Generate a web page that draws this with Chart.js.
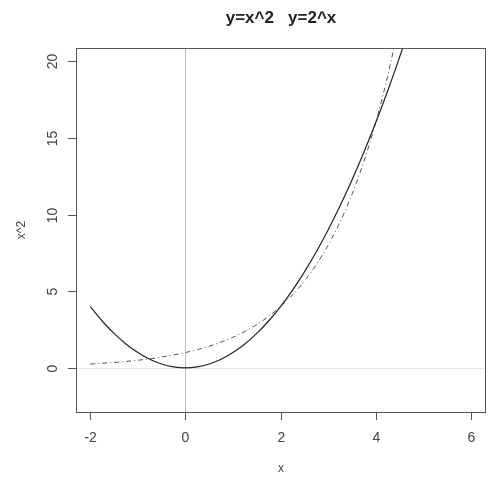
<!DOCTYPE html>
<html>
<head>
<meta charset="utf-8">
<script src="https://cdn.jsdelivr.net/npm/chart.js@4/dist/chart.umd.min.js"></script>
<style>
  body { margin: 0; background: #fff; }
</style>
</head>
<body>
<canvas id="myChart" width="489" height="477"></canvas>
<script>
// valeurs
const xs = [-2, -1.75, -1.5, -1.25, -1, -0.75, -0.5, -0.25, 0, 0.25, 0.5, 0.75, 1, 1.25, 1.5, 1.75, 2, 2.25, 2.5, 2.75, 3, 3.25, 3.5, 3.75, 4, 4.25, 4.5, 4.75, 5];
const squareVals = [4, 3.06, 2.25, 1.56, 1, 0.56, 0.25, 0.06, 0, 0.06, 0.25, 0.56, 1, 1.56, 2.25, 3.06, 4, 5.06, 6.25, 7.56, 9, 10.56, 12.25, 14.06, 16, 18.06, 20.25, 22.56, 25];
const powVals = [0.25, 0.3, 0.35, 0.42, 0.5, 0.59, 0.71, 0.84, 1, 1.19, 1.41, 1.68, 2, 2.38, 2.83, 3.36, 4, 4.76, 5.66, 6.73, 8, 9.51, 11.31, 13.45, 16, 19.03, 22.63, 26.91, 32];
const xTicks = [-2, 0, 2, 4, 6];
const yTicks = [0, 5, 10, 15, 20];
const title = 'y=x^2   y=2^x';
const xTitle = 'x';
const yTitle = 'x^2';

const pts = (ys) => xs.map((x, i) => ({ x: x, y: ys[i] }));

// le cadre, les axes et les textes facon R
const rAxes = {
    id: 'rAxes',
    beforeDatasetsDraw(chart) {
        const c = chart.ctx, a = chart.chartArea;
        const sx = chart.scales.x, sy = chart.scales.y;
        c.save();
        // lignes de reference x=0 et y=0
        c.lineWidth = 1;
        c.strokeStyle = '#bdbdbd';
        const x0 = Math.round(sx.getPixelForValue(0)) + 0.5;
        c.beginPath(); c.moveTo(x0, a.top); c.lineTo(x0, a.bottom); c.stroke();
        c.strokeStyle = '#e6e6e6';
        const y0 = Math.round(sy.getPixelForValue(0)) + 0.5;
        c.beginPath(); c.moveTo(a.left, y0); c.lineTo(a.right, y0); c.stroke();
        c.restore();
    },
    afterDraw(chart) {
        const c = chart.ctx, a = chart.chartArea;
        const sx = chart.scales.x, sy = chart.scales.y;
        c.save();
        c.strokeStyle = '#555';
        c.lineWidth = 1;
        c.strokeRect(a.left + 0.5, a.top + 0.5, a.right - a.left - 1, a.bottom - a.top);
        c.fillStyle = '#444';
        c.font = '14px "Liberation Sans", Arial, sans-serif';
        // x ticks
        c.textAlign = 'center';
        c.textBaseline = 'middle';
        xTicks.forEach(v => {
            const px = Math.round(sx.getPixelForValue(v)) + 0.5;
            c.beginPath(); c.moveTo(px, a.bottom); c.lineTo(px, a.bottom + 8); c.stroke();
            c.fillText(String(v), px, a.bottom + 26);
        });
        // y ticks (texte vertical)
        yTicks.forEach(v => {
            const py = Math.round(sy.getPixelForValue(v)) + 0.5;
            c.beginPath(); c.moveTo(a.left, py); c.lineTo(a.left - 8, py); c.stroke();
            c.save();
            c.translate(a.left - 23, py);
            c.rotate(-Math.PI / 2);
            c.textAlign = 'center';
            c.textBaseline = 'middle';
            c.fillText(String(v), 0, 0);
            c.restore();
        });
        // titres des axes
        c.font = '12px "Liberation Sans", Arial, sans-serif';
        c.textAlign = 'center';
        c.textBaseline = 'middle';
        c.fillText(xTitle, (a.left + a.right) / 2, 469);
        c.save();
        c.translate(22, (a.top + a.bottom) / 2);
        c.rotate(-Math.PI / 2);
        c.fillText(yTitle, 0, 0);
        c.restore();
        // titre principal
        c.fillStyle = '#222';
        c.font = 'bold 17px "Liberation Sans", Arial, sans-serif';
        c.fillText(title, (a.left + a.right) / 2, 18);
        c.restore();
    }
};

const ctx = document.getElementById('myChart').getContext('2d');
const myChart = new Chart(ctx, {
    type: 'line',
    data: {
        datasets: [{
            label: 'x^2',
            data: pts(squareVals),
            borderColor: '#222',
            borderWidth: 1.2,
            pointRadius: 0,
            fill: false,
            cubicInterpolationMode: 'monotone'
        }, {
            label: '2^x',
            data: pts(powVals),
            borderColor: '#555',
            borderWidth: 1,
            borderDash: [5, 3, 1, 3],
            pointRadius: 0,
            fill: false,
            cubicInterpolationMode: 'monotone'
        }]
    },
    options: {
        responsive: false,
        animation: false,
        layout: { padding: { left: 76, top: 48, right: 3, bottom: 65 } },
        plugins: { legend: { display: false }, title: { display: false }, tooltip: { enabled: false } },
        scales: {
            x: { type: 'linear', min: -2.3, max: 6.32, display: false },
            y: { type: 'linear', min: -2.88, max: 20.88, display: false }
        }
    },
    plugins: [rAxes]
});
</script>
</body>
</html>
